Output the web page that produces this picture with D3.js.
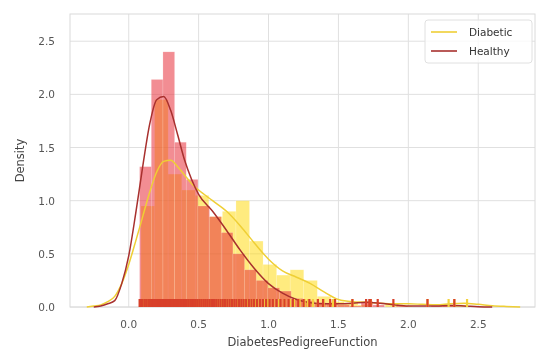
<!DOCTYPE html>
<html>
<head>
<meta charset="utf-8">
<script src="https://cdn.jsdelivr.net/npm/d3@7"></script>
<style>
  html, body { margin: 0; padding: 0; background: #fff; }
  svg { display: block; font-family: "DejaVu Sans", sans-serif; filter: blur(0.6px); }
</style>
</head>
<body>
<div id="chart"></div>
<script>
// histogram bins (density)
const healthyStart = 0.078;
const healthyWidth = 0.0834;
const healthyHist = [1.32, 2.14, 2.40, 1.55, 1.20, 0.95, 0.85, 0.70, 0.50, 0.35, 0.25, 0.18, 0.15, 0.08,
    0.06, 0.04, 0.03, 0.02, 0.01, 0.05, 0.02, 0.0, 0.01, 0.0, 0.0, 0.01, 0.02];
const diabeticStart = 0.088;
const diabeticWidth = 0.097;
const diabeticHist = [0.95, 1.95, 1.25, 1.10, 1.05, 0.85, 0.90, 1.00, 0.62, 0.40, 0.30, 0.35, 0.25, 0.10,
    0.05, 0.04, 0.02, 0.0, 0.03, 0.01, 0.0, 0.0, 0.02, 0.02];

// kde curves
const healthyKdeX = [-0.25, -0.2, -0.15, -0.1, -0.05, 0, 0.05, 0.1, 0.15, 0.2, 0.25, 0.3, 0.35, 0.4, 0.45, 0.5,
    0.6, 0.7, 0.8, 0.9, 1.0, 1.1, 1.2, 1.3, 1.4, 1.5, 1.6, 1.7, 1.8, 1.9, 2.0, 2.1, 2.2, 2.3, 2.4, 2.5, 2.6];
const healthyKdeY = [0.0, 0.01, 0.03, 0.06, 0.22, 0.48, 0.88, 1.32, 1.72, 1.95, 1.98, 1.85, 1.62, 1.38, 1.2, 1.06,
    0.9, 0.72, 0.53, 0.36, 0.22, 0.13, 0.07, 0.04, 0.03, 0.03, 0.035, 0.045, 0.035, 0.02, 0.01, 0.01, 0.01, 0.015, 0.01, 0.003, 0.0];
const diabeticKdeX = [-0.3, -0.25, -0.2, -0.15, -0.1, -0.05, 0, 0.05, 0.1, 0.15, 0.2, 0.25, 0.3, 0.35, 0.4, 0.45, 0.5,
    0.6, 0.7, 0.8, 0.9, 1.0, 1.1, 1.2, 1.3, 1.4, 1.5, 1.6, 1.7, 1.8, 1.9, 2.0, 2.1, 2.2, 2.3, 2.4, 2.5, 2.6, 2.7, 2.8];
const diabeticKdeY = [0.0, 0.01, 0.02, 0.05, 0.1, 0.22, 0.4, 0.62, 0.85, 1.08, 1.27, 1.37, 1.38, 1.32, 1.24, 1.16, 1.1,
    1.0, 0.9, 0.76, 0.6, 0.45, 0.34, 0.28, 0.22, 0.14, 0.07, 0.05, 0.045, 0.035, 0.03, 0.03, 0.025, 0.02, 0.03, 0.035, 0.025, 0.012, 0.005, 0.0];

// rug positions
const healthyRug = [0.078, 0.088, 0.1, 0.115, 0.127, 0.14, 0.151, 0.162, 0.17, 0.178, 0.187, 0.196, 0.205, 0.212,
    0.22, 0.229, 0.237, 0.245, 0.254, 0.263, 0.271, 0.28, 0.29, 0.299, 0.308, 0.318, 0.328, 0.337, 0.347, 0.358,
    0.368, 0.38, 0.391, 0.403, 0.415, 0.427, 0.44, 0.452, 0.466, 0.48, 0.494, 0.508, 0.522, 0.537, 0.551, 0.565,
    0.58, 0.595, 0.61, 0.626, 0.641, 0.657, 0.673, 0.688, 0.705, 0.722, 0.738, 0.755, 0.771, 0.788, 0.805, 0.822,
    0.84, 0.859, 0.878, 0.897, 0.917, 0.938, 0.96, 0.983, 1.007, 1.031, 1.057, 1.085, 1.114, 1.144, 1.174, 1.213,
    1.251, 1.292, 1.353, 1.39, 1.441, 1.476, 1.6, 1.698, 1.721, 1.731, 1.781, 1.893, 2.137, 2.329];
const diabeticRug = [0.088, 0.101, 0.118, 0.134, 0.149, 0.165, 0.178, 0.19, 0.203, 0.215, 0.228, 0.24, 0.254,
    0.268, 0.282, 0.297, 0.313, 0.33, 0.347, 0.365, 0.383, 0.401, 0.42, 0.44, 0.46, 0.48, 0.5, 0.52, 0.542, 0.564,
    0.587, 0.61, 0.634, 0.658, 0.682, 0.705, 0.729, 0.752, 0.775, 0.8, 0.825, 0.851, 0.878, 0.906, 0.935, 0.966,
    0.997, 1.034, 1.076, 1.114, 1.154, 1.182, 1.222, 1.258, 1.282, 1.318, 1.353, 1.394, 1.461, 1.6, 1.731, 2.137,
    2.288, 2.329, 2.42];

const xTicks = [0, 0.5, 1.0, 1.5, 2.0, 2.5];
const yTicks = [0, 0.5, 1.0, 1.5, 2.0, 2.5];

const groups = [
    {name: "Diabetic", start: diabeticStart, width: diabeticWidth, hist: diabeticHist, kx: diabeticKdeX, ky: diabeticKdeY,
     rug: diabeticRug, fill: "#ffd700", fillOpacity: 0.5, line: "#efcf35", rugColor: "#f3d23c"},
    {name: "Healthy", start: healthyStart, width: healthyWidth, hist: healthyHist, kx: healthyKdeX, ky: healthyKdeY,
     rug: healthyRug, fill: "#e8303a", fillOpacity: 0.55, line: "#a8302e", rugColor: "#d8402a"}
];

const W = 539, H = 352;
const margin = {top: 14, right: 4, bottom: 45, left: 70};
const svg = d3.select("#chart").append("svg").attr("width", W).attr("height", H);

const x = d3.scaleLinear().domain([-0.42, 2.906]).range([margin.left, W - margin.right]);
const y = d3.scaleLinear().domain([0, 2.756]).range([H - margin.bottom, margin.top]);

// grid
svg.append("g").selectAll("line").data(xTicks).join("line")
    .attr("x1", d => x(d)).attr("x2", d => x(d))
    .attr("y1", y.range()[1]).attr("y2", y.range()[0])
    .attr("stroke", "#e0e0e0").attr("stroke-width", 1);
svg.append("g").selectAll("line").data(yTicks).join("line")
    .attr("x1", x.range()[0]).attr("x2", x.range()[1])
    .attr("y1", d => y(d)).attr("y2", d => y(d))
    .attr("stroke", "#e0e0e0").attr("stroke-width", 1);

// frame
svg.append("rect")
    .attr("x", x.range()[0]).attr("y", y.range()[1])
    .attr("width", x.range()[1] - x.range()[0]).attr("height", y.range()[0] - y.range()[1])
    .attr("fill", "none").attr("stroke", "#dadada").attr("stroke-width", 1);

const line = d3.line().curve(d3.curveMonotoneX).x(d => x(d[0])).y(d => y(d[1]));

groups.forEach(g => {
    // histogram
    svg.append("g").selectAll("rect").data(g.hist).join("rect")
        .attr("x", (d, i) => x(g.start + i * g.width))
        .attr("width", x(g.width) - x(0))
        .attr("y", d => y(d))
        .attr("height", d => y(0) - y(d))
        .attr("fill", g.fill).attr("fill-opacity", g.fillOpacity)
        .attr("stroke", "#fff").attr("stroke-opacity", 0.25).attr("stroke-width", 0.6);
});

groups.forEach(g => {
    // kde
    svg.append("path")
        .datum(g.kx.map((v, i) => [v, g.ky[i]]))
        .attr("fill", "none").attr("stroke", g.line).attr("stroke-width", 1.5)
        .attr("d", line);
});

groups.forEach(g => {
    // rug
    svg.append("g").selectAll("line").data(g.rug).join("line")
        .attr("x1", d => x(d)).attr("x2", d => x(d))
        .attr("y1", y(0)).attr("y2", y(0) - 8)
        .attr("stroke", g.rugColor).attr("stroke-width", 2.2);
});

// axes labels
const axisColor = "#555";
svg.append("g").selectAll("text").data(xTicks).join("text")
    .attr("x", d => x(d)).attr("y", 328)
    .attr("text-anchor", "middle").attr("font-size", 10.5).attr("fill", axisColor)
    .text(d3.format(".1f"));
svg.append("g").selectAll("text").data(yTicks).join("text")
    .attr("x", 55).attr("y", d => y(d) + 4)
    .attr("text-anchor", "end").attr("font-size", 10.5).attr("fill", axisColor)
    .text(d3.format(".1f"));

svg.append("text")
    .attr("x", (x.range()[0] + x.range()[1]) / 2).attr("y", 346)
    .attr("text-anchor", "middle").attr("font-size", 11.5).attr("fill", "#444")
    .text("DiabetesPedigreeFunction");
svg.append("text")
    .attr("transform", `translate(24, ${(y.range()[0] + y.range()[1]) / 2}) rotate(-90)`)
    .attr("text-anchor", "middle").attr("font-size", 11.5).attr("fill", "#444")
    .text("Density");

// legend
const legend = svg.append("g").attr("transform", "translate(425, 20)");
legend.append("rect")
    .attr("width", 107).attr("height", 43).attr("rx", 3)
    .attr("fill", "#fff").attr("fill-opacity", 0.8)
    .attr("stroke", "#e0e0e0");
groups.forEach((g, i) => {
    const ly = 12 + i * 19;
    legend.append("line")
        .attr("x1", 6).attr("x2", 32).attr("y1", ly).attr("y2", ly)
        .attr("stroke", g.line).attr("stroke-width", 1.6);
    legend.append("text")
        .attr("x", 44).attr("y", ly + 4)
        .attr("font-size", 10.5).attr("fill", "#333")
        .text(g.name);
});
</script>
</body>
</html>
